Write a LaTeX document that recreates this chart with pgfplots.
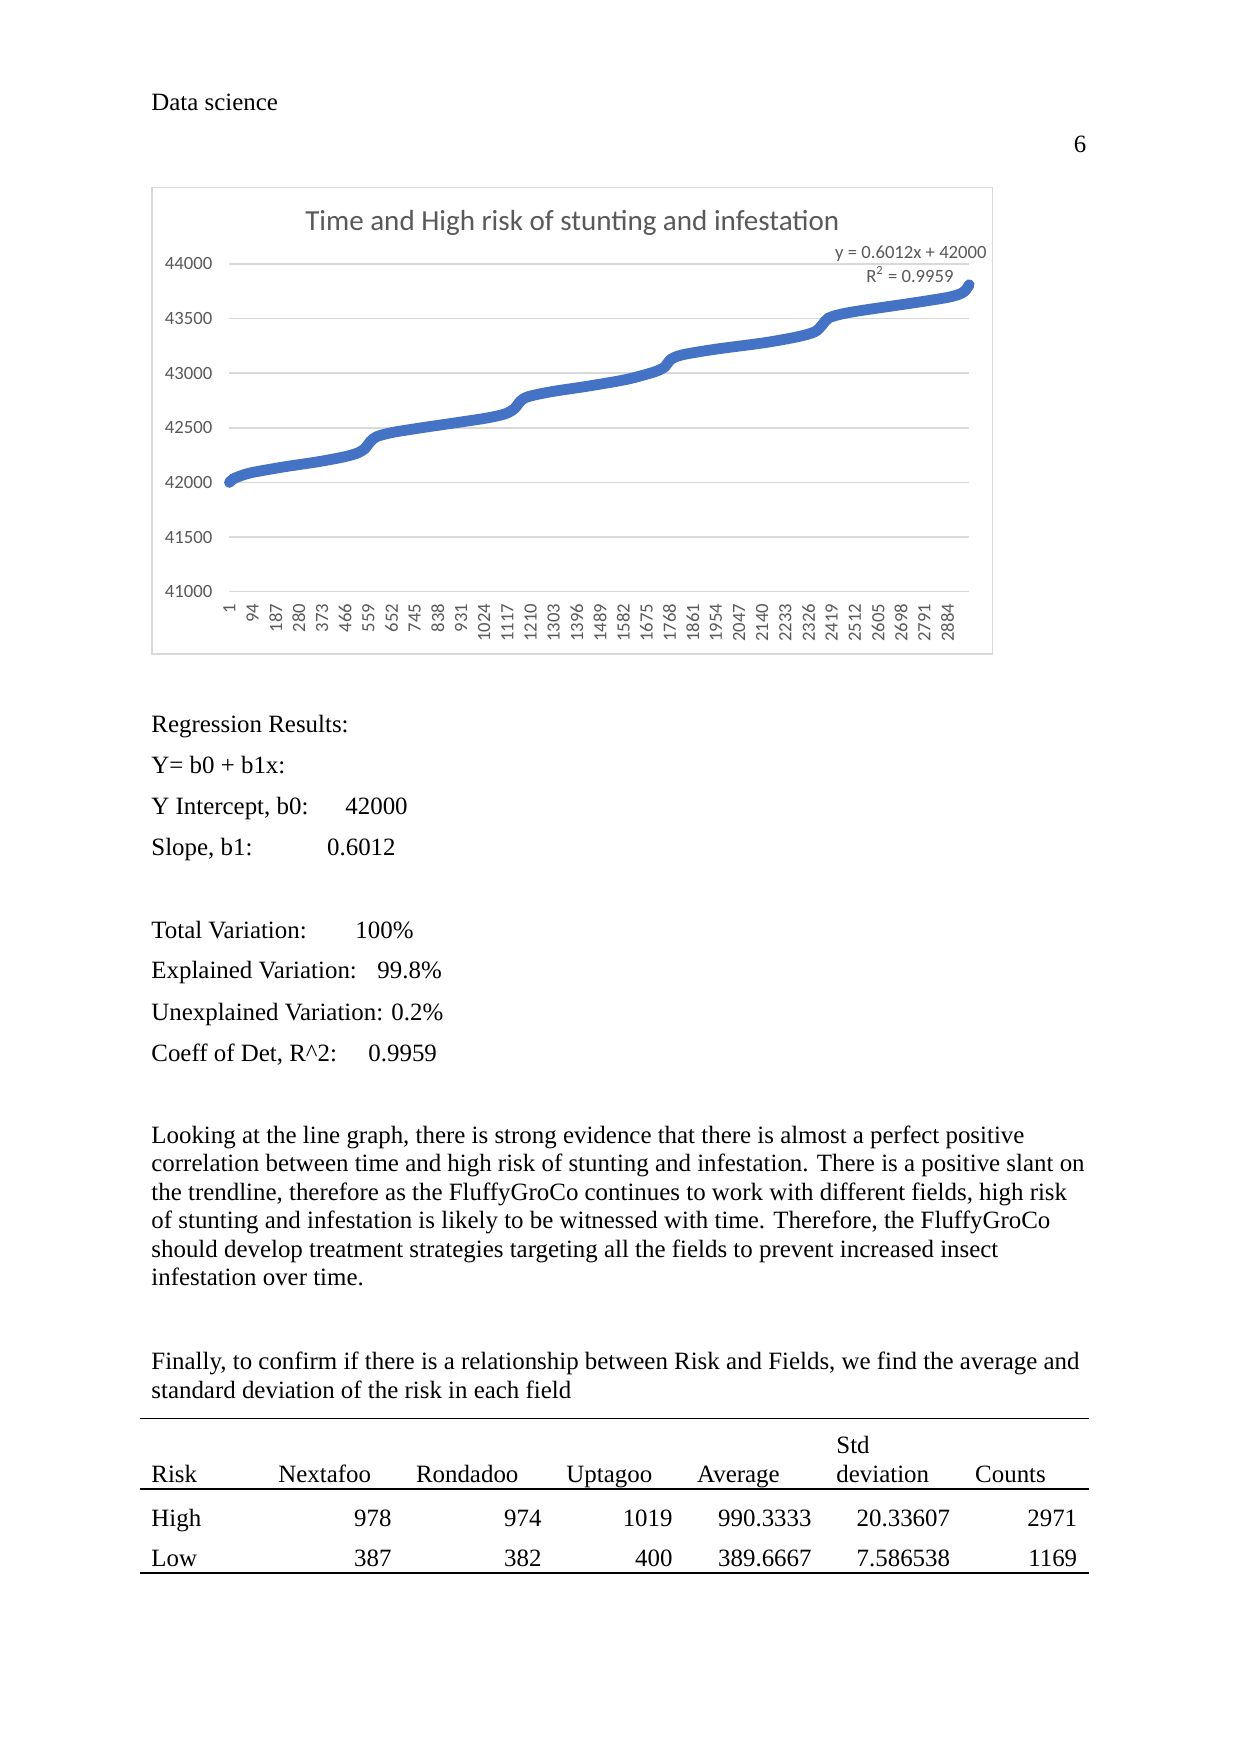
\documentclass[border=0pt]{standalone}
\usepackage{fontspec}
\setmainfont{Liberation Serif}
\newfontfamily\calibri{Carlito}
\usepackage{pgfplots}
\pgfplotsset{compat=1.18}
\definecolor{exblue}{HTML}{4472C4}
\definecolor{txtgray}{HTML}{595959}
\definecolor{gridgray}{HTML}{D9D9D9}
\tikzset{
  body/.style={font=\fontsize{12}{14}\selectfont, inner sep=0pt, anchor=base west},
  bodyr/.style={font=\fontsize{12}{14}\selectfont, inner sep=0pt, anchor=base east},
}
\begin{document}
\begin{tikzpicture}
\begin{scope}[x=0.48177pt,y=-0.48177pt]
\path[use as bounding box, fill=white] (0,0) rectangle (1241,1754);
\coordinate (psw) at (229.3,591.7);
% header
\node[body] at (151,110) {Data science};
\node[bodyr] at (1086.7,152) {6};
% chart frame
\draw[gridgray, line width=0.75pt] (152,187.3) rectangle (992.7,654);
\node[font=\calibri\fontsize{14}{16}\selectfont, text=txtgray, inner sep=0pt, anchor=base] at (572.3,230.7) {Time and High risk of stunting and infestation};
\node[font=\calibri\fontsize{9}{10}\selectfont, text=txtgray, inner sep=0pt, anchor=base east] at (987,258) {y = 0.6012x + 42000};
\node[font=\calibri\fontsize{9}{10}\selectfont, text=txtgray, inner sep=0pt, anchor=base east] at (954,282) {R\textsuperscript{2} = 0.9959};
% regression results
\node[body] at (151,732.7) {Regression Results:};
\node[body] at (151,773.3) {Y= b0 + b1x:};
\node[body] at (151,814) {Y Intercept, b0:};
\node[body] at (345,814) {42000};
\node[body] at (151,855.7) {Slope, b1:};
\node[body] at (326.7,855.7) {0.6012};
\node[body] at (151,938) {Total Variation:};
\node[body] at (355,938) {100\%};
\node[body] at (151,978) {Explained Variation:};
\node[body] at (377,978) {99.8\%};
\node[body] at (151,1020) {Unexplained Variation: 0.2\%};
\node[body] at (151,1061) {Coeff of Det, R\^{}2:};
\node[body] at (368,1061) {0.9959};
% paragraph
\node[body] at (151,1143.3) {Looking at the line graph, there is strong evidence that there is almost a perfect positive};
\node[body] at (151,1171.8) {correlation between time and high risk of stunting and infestation. There is a positive slant on};
\node[body] at (151,1200.3) {the trendline, therefore as the FluffyGroCo continues to work with different fields, high risk};
\node[body] at (151,1228.8) {of stunting and infestation is likely to be witnessed with time. Therefore, the FluffyGroCo};
\node[body] at (151,1257.3) {should develop treatment strategies targeting all the fields to prevent increased insect};
\node[body] at (151,1285.8) {infestation over time.};
\node[body] at (151,1369.5) {Finally, to confirm if there is a relationship between Risk and Fields, we find the average and};
\node[body] at (151,1398) {standard deviation of the risk in each field};
% table
\draw[line width=0.5pt] (139.6,1418.3) -- (1088.5,1418.3);
\draw[line width=1.1pt] (139.6,1489.3) -- (1088.5,1489.3);
\draw[line width=1.1pt] (139.6,1573.3) -- (1088.5,1573.3);
\node[body] at (836,1453) {Std};
\node[body] at (151,1482.7) {Risk};
\node[body] at (278,1482.7) {Nextafoo};
\node[body] at (415.6,1482.7) {Rondadoo};
\node[body] at (566,1482.7) {Uptagoo};
\node[body] at (696.8,1482.7) {Average};
\node[body] at (836,1482.7) {deviation};
\node[body] at (974.8,1482.7) {Counts};
\node[body] at (151,1526) {High};
\node[bodyr] at (392,1526) {978};
\node[bodyr] at (542,1526) {974};
\node[bodyr] at (673,1526) {1019};
\node[bodyr] at (812,1526) {990.3333};
\node[bodyr] at (950.5,1526) {20.33607};
\node[bodyr] at (1077.6,1526) {2971};
\node[body] at (151,1566.7) {Low};
\node[bodyr] at (392,1566.7) {387};
\node[bodyr] at (542,1566.7) {382};
\node[bodyr] at (673,1566.7) {400};
\node[bodyr] at (812,1566.7) {389.6667};
\node[bodyr] at (950.5,1566.7) {7.586538};
\node[bodyr] at (1077.6,1566.7) {1169};
\end{scope}
\begin{axis}[
  at={(psw)}, anchor=south west,
  scale only axis, width=356.5pt, height=157.9pt,
  xmin=0.5, xmax=2971.5, ymin=41000, ymax=44000,
  enlargelimits=false, clip=false, scaled ticks=false,
  axis line style={draw=none}, major tick length=0pt,
  ymajorgrids, grid style={gridgray, line width=0.7pt},
  ytick={41000,41500,42000,42500,43000,43500,44000},
  yticklabels={41000,41500,42000,42500,43000,43500,44000},
  xtick={1,94,187,280,373,466,559,652,745,838,931,1024,1117,1210,1303,1396,1489,1582,1675,1768,1861,1954,2047,2140,2233,2326,2419,2512,2605,2698,2791,2884},
  xticklabels={1,94,187,280,373,466,559,652,745,838,931,1024,1117,1210,1303,1396,1489,1582,1675,1768,1861,1954,2047,2140,2233,2326,2419,2512,2605,2698,2791,2884},
  ticklabel style={font=\calibri\fontsize{9}{10}\selectfont, text=txtgray, inner sep=0pt},
  xticklabel style={rotate=90, anchor=east},
  yticklabel style={anchor=east},
  xticklabel shift=5.6pt, yticklabel shift=8pt,
]
\addplot[color=exblue, line width=5.2pt, line cap=round, line join=round, smooth, tension=0.5] table {
x y
1 42000
15 42030
37 42053
90 42090
224 42144
358 42190
465 42236
519 42273
546 42313
566 42373
592 42419
652 42456
759 42496
893 42541
1027 42587
1107 42627
1147 42679
1167 42739
1200 42785
1294 42831
1428 42877
1549 42923
1616 42954
1710 43014
1750 43060
1770 43121
1817 43167
1951 43219
2152 43280
2285 43335
2352 43380
2381 43442
2405 43503
2459 43542
2553 43579
2754 43646
2887 43695
2941 43732
2960 43770
2971 43810
};
\end{axis}
\end{tikzpicture}
\end{document}
